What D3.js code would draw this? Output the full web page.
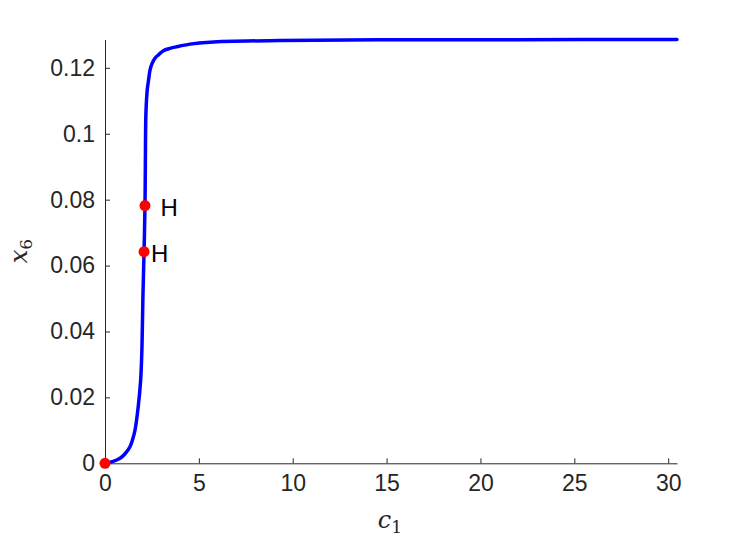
<!DOCTYPE html>
<html><head><meta charset="utf-8">
<script src="https://cdn.jsdelivr.net/npm/d3@7"></script>
<style>body{margin:0;background:#fff}</style>
</head><body>
<svg id="chart" width="747" height="541"></svg>
<script>
// data
const c1 = [0, 0.40, 0.80, 1.07, 1.33, 1.47, 1.60, 1.77, 1.90, 1.97, 2.02, 2.08, 2.13, 2.15, 2.18, 2.25, 2.32, 2.40, 2.50, 2.66, 2.88, 3.11, 3.46, 3.82, 4.53, 5.59, 9.32, 14.65, 22.0, 30.47];
const x6 = [0, 0.0005, 0.00152, 0.0029, 0.00504, 0.0072, 0.0101, 0.0172, 0.0253, 0.0354, 0.0506, 0.0642, 0.0782, 0.0910, 0.1062, 0.1133, 0.1163, 0.1194, 0.1212, 0.1229, 0.1241, 0.1252, 0.1259, 0.1264, 0.1272, 0.1278, 0.1283, 0.1285, 0.12855, 0.1286];
const specialC1 = [0, 2.13, 2.08];
const specialX6 = [0, 0.0782, 0.0642];
const specialLabels = ["", "H", "H"];
const xTicks = [0, 5, 10, 15, 20, 25, 30];
const yTicks = [0, 0.02, 0.04, 0.06, 0.08, 0.1, 0.12];
const yTickLabels = ["0", "0.02", "0.04", "0.06", "0.08", "0.1", "0.12"];

const svg = d3.select("#chart");
const m = {l: 105, r: 70, t: 39.5, b: 77.7};
const W = 747, H = 541;
const x = d3.scaleLinear().domain([0, 30.47]).range([m.l, W - m.r]);
const y = d3.scaleLinear().domain([0, 0.1286]).range([H - m.b, m.t]);

const axColor = "#262626";
const font = "'Liberation Sans', Arial, sans-serif";

const gx = svg.append("g").attr("transform", `translate(0,${H - m.b})`)
  .call(d3.axisBottom(x).tickValues(xTicks).tickSizeInner(-5).tickSizeOuter(0).tickPadding(11).tickFormat(d3.format("d")));
const gy = svg.append("g").attr("transform", `translate(${m.l},0)`)
  .call(d3.axisLeft(y).tickValues(yTicks).tickSizeInner(-5).tickSizeOuter(0).tickPadding(10).tickFormat((d, i) => yTickLabels[i]));
[gx, gy].forEach(g => {
  g.select(".domain").attr("stroke", axColor).attr("stroke-width", 1);
  g.selectAll(".tick line").attr("stroke", axColor);
  g.selectAll(".tick text").attr("fill", axColor).style("font-family", font).style("font-size", "23px");
});

const pts = c1.map((c, i) => [c, x6[i]]);
svg.append("path").datum(pts)
  .attr("fill", "none").attr("stroke", "#0000ff").attr("stroke-width", 3.5)
  .attr("stroke-linejoin", "round").attr("stroke-linecap", "round")
  .attr("d", d3.line().x(d => x(d[0])).y(d => y(d[1])).curve(d3.curveCatmullRom.alpha(0.5)));

svg.selectAll("circle.sp").data(specialC1).enter().append("circle")
  .attr("cx", (d) => x(d)).attr("cy", (d, i) => y(specialX6[i])).attr("r", 5.5).attr("fill", "#ff0000");

const labelDx = [0, 15.5, 7];
svg.selectAll("text.lab").data(specialLabels).enter().append("text")
  .attr("x", (d, i) => x(specialC1[i]) + labelDx[i]).attr("y", (d, i) => y(specialX6[i]) + 10.5)
  .style("font-family", font).style("font-size", "24px").attr("fill", "#000").text(d => d);

// axis labels
const xl = svg.append("text").attr("x", 390).attr("y", 528).attr("text-anchor", "middle")
  .style("font-family", "'DejaVu Serif', 'Liberation Serif', serif").style("font-size", "24px").style("font-style", "italic").attr("fill", axColor);
xl.append("tspan").text("c");
xl.append("tspan").attr("dy", 5).style("font-size", "17px").style("font-style", "normal").text("1");

const yl = svg.append("text").attr("transform", "translate(27,251) rotate(-90)").attr("text-anchor", "middle")
  .style("font-family", "'DejaVu Serif', 'Liberation Serif', serif").style("font-size", "24px").style("font-style", "italic").attr("fill", axColor);
yl.append("tspan").text("x");
yl.append("tspan").attr("dy", 5).style("font-size", "17px").style("font-style", "normal").text("6");
</script>
</body></html>
